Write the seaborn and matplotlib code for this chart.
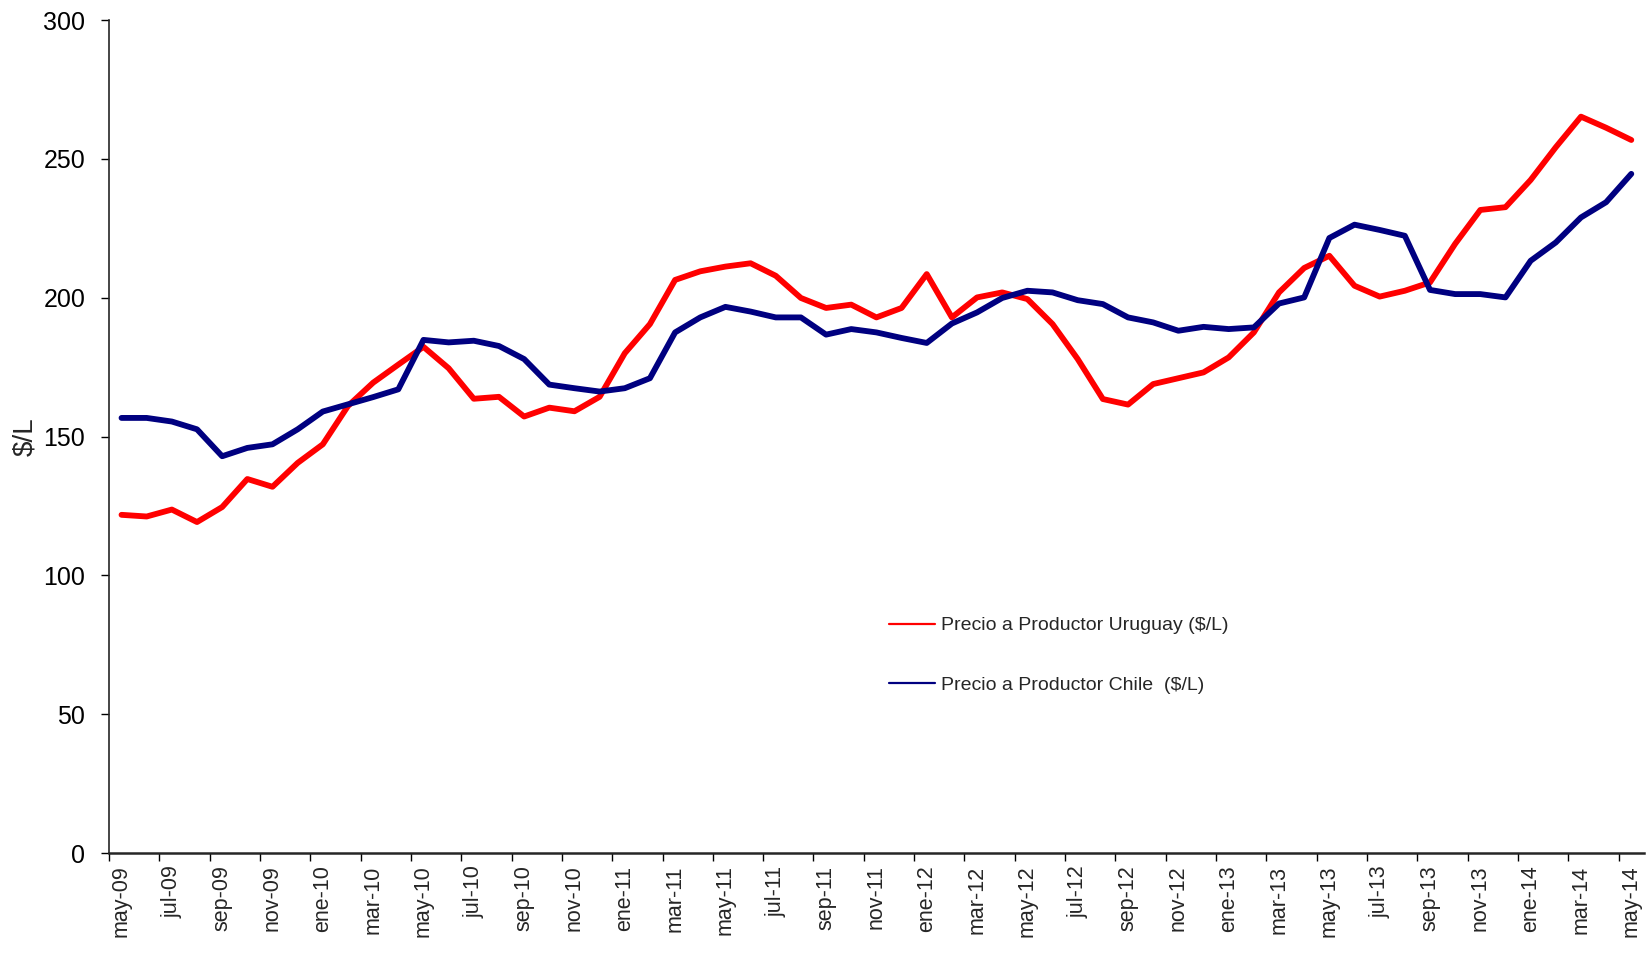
import pandas as pd
import seaborn as sns
import matplotlib.pyplot as plt
from matplotlib.lines import Line2D

# Months (spanish abbreviations), may-09 .. may-14
month_names = ['ene', 'feb', 'mar', 'abr', 'may', 'jun',
               'jul', 'ago', 'sep', 'oct', 'nov', 'dic']
months = [f"{month_names[(4 + k) % 12]}-{9 + (4 + k) // 12:02d}" for k in range(61)]

uruguay = [121.8, 121.2, 123.7, 119.2, 124.6, 134.7, 131.9, 140.5, 147.2, 161.0,
           169.4, 175.9, 182.3, 174.6, 163.6, 164.3, 157.2, 160.4, 159.1, 164.3,
           180.0, 190.5, 206.4, 209.5, 211.2, 212.4, 207.9, 199.9, 196.3, 197.5,
           192.9, 196.3, 208.5, 192.9, 200.1, 201.9, 199.5, 190.5, 177.9, 163.5,
           161.5, 168.9, 171.0, 173.1, 178.5, 187.5, 201.9, 210.7, 215.1, 204.3,
           200.4, 202.5, 205.5, 219.4, 231.6, 232.6, 242.4, 254.2, 265.2, 261.2,
           256.8]
chile = [156.7, 156.7, 155.4, 152.6, 142.9, 145.9, 147.2, 152.6, 159.0, 161.6,
         164.2, 167.0, 184.8, 183.9, 184.5, 182.6, 177.9, 168.7, 167.4, 166.2,
         167.4, 171.0, 187.5, 192.9, 196.7, 195.0, 192.9, 192.9, 186.7, 188.7,
         187.5, 185.5, 183.7, 190.7, 194.7, 199.9, 202.5, 201.9, 199.1, 197.7,
         192.9, 191.1, 188.1, 189.5, 188.7, 189.3, 197.9, 200.1, 221.5, 226.3,
         224.4, 222.3, 202.8, 201.3, 201.3, 200.1, 213.3, 219.9, 228.9, 234.4,
         244.6]

series_names = ['Precio a Productor Uruguay ($/L)', 'Precio a Productor Chile  ($/L)']
colors = ['#FF0000', '#000080']

df = pd.DataFrame({
    'x': list(range(len(months))) * 2,
    'valor': uruguay + chile,
    'serie': [series_names[0]] * len(months) + [series_names[1]] * len(months),
})

sns.set_style('ticks')
plt.rcParams['font.family'] = ['Liberation Sans', 'DejaVu Sans']

fig = plt.figure(figsize=(16.48, 9.63), dpi=100)
ax = fig.add_axes([0.0661, 0.1142, 0.9314, 0.865])

sns.lineplot(data=df, x='x', y='valor', hue='serie', palette=colors,
             linewidth=4.2, ax=ax, legend=False)

ax.set_xlim(-0.5, len(months) - 0.5)
ax.set_ylim(0, 300)
ax.set_yticks(range(0, 301, 50))
ax.tick_params(axis='y', labelsize=18, length=6, width=1, pad=11, colors='black')

# tick marks between categories, labels every 2 months
ax.set_xticks([k - 0.5 for k in range(0, len(months), 2)])
ax.set_xticklabels([])
ax.set_xticks(list(range(0, len(months), 2)), [months[k] for k in range(0, len(months), 2)], minor=True)
ax.tick_params(axis='x', which='major', length=6, width=1, colors='black')
ax.tick_params(axis='x', which='minor', length=0, labelsize=15.5, rotation=90, pad=9)

sns.despine(ax=ax)
ax.spines['left'].set_linewidth(1.2)
ax.spines['bottom'].set_linewidth(1.8)
ax.set_xlabel('')
ax.set_ylabel('$/L', fontsize=20, labelpad=4)

handles = [Line2D([], [], color=c, linewidth=1.6) for c in colors]
ax.legend(handles, series_names, loc='center left', bbox_to_anchor=(0.5334, 0.3196),
          bbox_transform=fig.transFigure, frameon=False, fontsize=14,
          handlelength=2.4, handletextpad=0.3, labelspacing=2.15, borderpad=0)

fig.savefig('out.png', dpi=100)
